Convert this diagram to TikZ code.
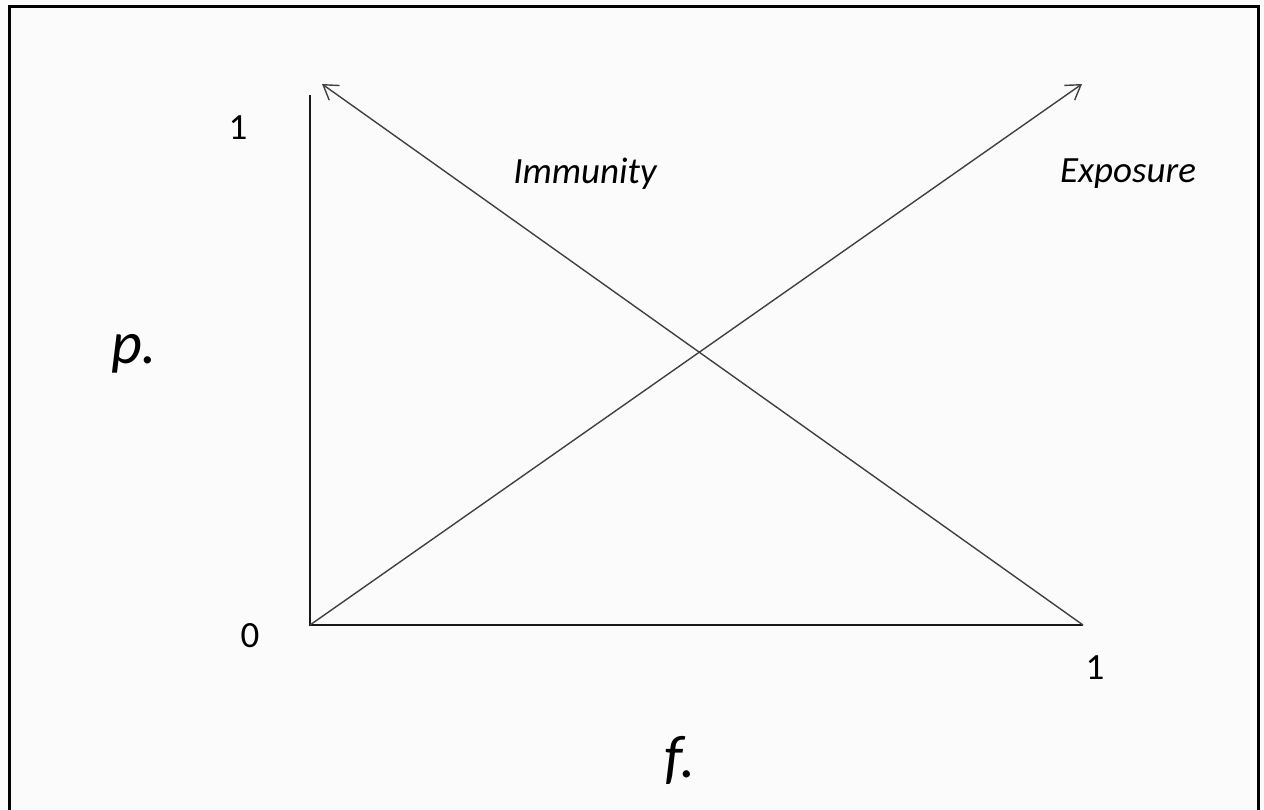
\documentclass[tikz,border=0pt]{standalone}
\usepackage{fontspec}
\setmainfont{Carlito}
\usetikzlibrary{arrows.meta, positioning}
\definecolor{paper}{HTML}{FBFBFB}

\begin{document}
\begin{tikzpicture}[x=0.5pt, y=-0.5pt,
    axis/.style={line width=1pt, black!90},
    ray/.style={-{Straight Barb[length=7pt,width=9pt]}, line width=0.7pt, black!75},
    tick/.style={font=\fontsize{18.5}{22}\selectfont},
    curve/.style={font=\fontsize{18.5}{22}\selectfont\itshape},
    var/.style={font=\fontsize{30}{36}\selectfont\itshape}]
      \useasboundingbox[fill=paper] (0,0) rectangle (1264,809);
      \draw[line width=1.5pt] (9,812) -- (9,6) -- (1258,6) -- (1258,812);

      \coordinate (o) at (310,625);
      \coordinate (ytop) at (310,95);
      \coordinate (xend) at (1083,625);
      \coordinate (imm) at (322,84);
      \coordinate (exp) at (1082,84);

      \node[tick] (y1) at (238,128) {1};
      \node[tick] (y0) at (250,636) {0};
      \node[tick] (x1) at (1095,668) {1};
      \node[curve] (limm) at (585,174) {Immunity};
      \node[curve] (lexp) at (1128,174) {Exposure};
      \node[var] (lp) at (134,354) {p.};
      \node[var] (lf) at (680,760) {f.};

      \draw[axis] (ytop) -- (o) -- (xend);
      \draw[ray] (xend) -- (imm);
      \draw[ray] (o) -- (exp);
    \end{tikzpicture}
\end{document}
